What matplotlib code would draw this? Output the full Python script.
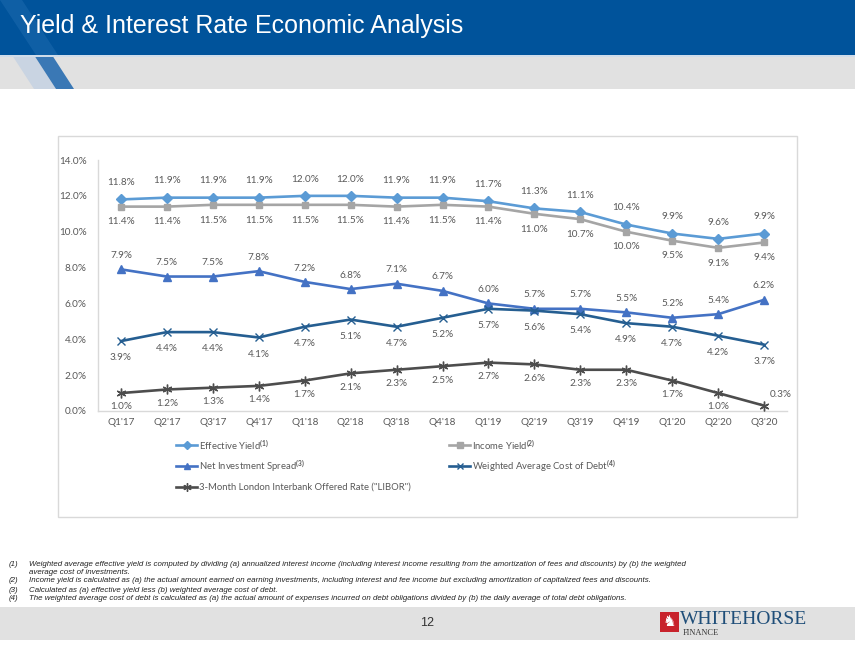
import matplotlib
matplotlib.use("Agg")
import matplotlib.pyplot as plt
import matplotlib.patches as mpatches
from matplotlib.lines import Line2D
from matplotlib import font_manager

W, H = 855, 654

quarters = ["Q1'17", "Q2'17", "Q3'17", "Q4'17", "Q1'18", "Q2'18", "Q3'18", "Q4'18",
            "Q1'19", "Q2'19", "Q3'19", "Q4'19", "Q1'20", "Q2'20", "Q3'20"]
effective_yield = [11.8, 11.9, 11.9, 11.9, 12.0, 12.0, 11.9, 11.9, 11.7, 11.3, 11.1, 10.4, 9.9, 9.6, 9.9]
income_yield = [11.4, 11.4, 11.5, 11.5, 11.5, 11.5, 11.4, 11.5, 11.4, 11.0, 10.7, 10.0, 9.5, 9.1, 9.4]
net_spread = [7.9, 7.5, 7.5, 7.8, 7.2, 6.8, 7.1, 6.7, 6.0, 5.7, 5.7, 5.5, 5.2, 5.4, 6.2]
cost_of_debt = [3.9, 4.4, 4.4, 4.1, 4.7, 5.1, 4.7, 5.2, 5.7, 5.6, 5.4, 4.9, 4.7, 4.2, 3.7]
libor = [1.0, 1.2, 1.3, 1.4, 1.7, 2.1, 2.3, 2.5, 2.7, 2.6, 2.3, 2.3, 1.7, 1.0, 0.3]
y_ticks = [0, 2, 4, 6, 8, 10, 12, 14]

footnotes = [
    ("(1)", "Weighted average effective yield is computed by dividing (a) annualized interest income (including interest income resulting from the amortization of fees and discounts) by (b) the weighted"),
    ("", "average cost of investments."),
    ("(2)", "Income yield is calculated as (a) the actual amount earned on earning investments, including interest and fee income but excluding amortization of capitalized fees and discounts."),
    ("(3)", "Calculated as (a) effective yield less (b) weighted average cost of debt."),
    ("(4)", "The weighted average cost of debt is calculated as (a) the actual amount of expenses incurred on debt obligations divided by (b) the daily average of total debt obligations."),
]

installed = {f.name for f in font_manager.fontManager.ttflist}
LABEL_FONT = "Lato" if "Lato" in installed else "DejaVu Sans"
SANS = ["Liberation Sans", "DejaVu Sans"]

plt.rcParams["font.family"] = [LABEL_FONT, "DejaVu Sans"]
plt.rcParams["mathtext.fontset"] = "custom"
plt.rcParams["mathtext.rm"] = LABEL_FONT
plt.rcParams["mathtext.bf"] = LABEL_FONT + ":bold"

TXT = "#595959"
C_EY = "#5B9BD5"
C_IY = "#A5A5A5"
C_NIS = "#4472C4"
C_DEBT = "#255E91"
C_LIBOR = "#4D4D4D"


def px(x, y):
    return x / W, 1 - y / H


def rect(x0, y0, x1, y1, **kw):
    (fx0, fy1), (fx1, fy0) = px(x0, y0), px(x1, y1)
    return mpatches.Rectangle((fx0, fy0), fx1 - fx0, fy1 - fy0, transform=fig.transFigure, **kw)


def poly(points, **kw):
    return mpatches.Polygon([px(x, y) for x, y in points], closed=True, transform=fig.transFigure, **kw)


fig = plt.figure(figsize=(W / 100, H / 100), dpi=100)
fig.patch.set_facecolor("white")

# header
fig.add_artist(rect(0, 0, W, 55, color="#00539B", lw=0))
fig.add_artist(rect(0, 55, W, 89, color="#E1E1E1", lw=0))
fig.add_artist(poly([(0, 0), (22, 0), (58, 55), (36, 55)], color="#1D6AAE", alpha=0.55, lw=0))
fig.add_artist(poly([(12, 55), (34, 55), (56, 89), (34, 89)], color="#C9D4E2", lw=0))
fig.add_artist(poly([(34, 55), (52, 55), (74, 89), (56, 89)], color="#3A78B5", lw=0))
fig.add_artist(rect(0, 55, W, 57, color="#CFDCEA", lw=0))
fig.text(*px(20, 26), "Yield & Interest Rate Economic Analysis", color="white",
         fontsize=18, family=SANS, va="center", ha="left")

# chart frame
fig.add_artist(rect(58, 136, 797, 517, facecolor="none", edgecolor="#D9D9D9", lw=1.0))

ax = fig.add_axes([98 / W, 1 - 411 / H, 689 / W, 251 / H])
x = list(range(len(quarters)))

series = [
    (effective_yield, C_EY, "D", 5, 12),
    (income_yield, C_IY, "s", 5, -11),
    (net_spread, C_NIS, "^", 6, 10),
    (cost_of_debt, C_DEBT, "x", 6, -12),
    (libor, C_LIBOR, (6, 2, 0), 7, -10),
]
for vals, col, mk, ms, dy in series:
    ax.plot(x, vals, color=col, lw=1.9, marker=mk, ms=ms, mec=col, mfc=col, mew=1.0, zorder=3)
    for i, v in enumerate(vals):
        dx, ddy = 0, dy
        if vals is libor and i == len(vals) - 1:
            dx, ddy = 12, 8
        ax.annotate(f"{v:.1f}%", (i, v), xytext=(dx, ddy), textcoords="offset points",
                    ha="center", va="center", fontsize=7.2, color=TXT)

ax.set_xlim(-0.5, len(quarters) - 0.5)
ax.set_ylim(0, 14)
ax.set_xticks(x)
ax.set_xticklabels(quarters)
ax.set_yticks(y_ticks)
ax.set_yticklabels([f"{t:.1f}%" for t in y_ticks])
ax.tick_params(length=0, labelsize=7.2, colors=TXT, pad=5)
ax.tick_params(axis="y", pad=8)
for s in ["top", "right"]:
    ax.spines[s].set_visible(False)
for s in ["left", "bottom"]:
    ax.spines[s].set_color("#D9D9D9")
    ax.spines[s].set_linewidth(1.0)
ax.set_facecolor("none")

# legend
legend_items = [
    (176, 445, C_EY, "D", 4, r"Effective Yield$^{\mathbf{(1)}}$"),
    (176, 466, C_NIS, "^", 5, r"Net Investment Spread$^{\mathbf{(3)}}$"),
    (176, 487, C_LIBOR, (6, 2, 0), 6, r'3-Month London Interbank Offered Rate ("LIBOR")'),
    (449, 445, C_IY, "s", 4, r"Income Yield$^{\mathbf{(2)}}$"),
    (449, 466, C_DEBT, "x", 5, r"Weighted Average Cost of Debt$^{\mathbf{(4)}}$"),
]
for lx, ly, col, mk, ms, lab in legend_items:
    (fx0, fy), (fx1, _) = px(lx, ly), px(lx + 21, ly)
    fig.add_artist(Line2D([fx0, fx1], [fy, fy], color=col, lw=1.9, transform=fig.transFigure))
    fig.add_artist(Line2D([(fx0 + fx1) / 2], [fy], color=col, marker=mk, ms=ms, mec=col,
                          mfc=col, transform=fig.transFigure))
    fig.text(*px(lx + 23, ly), lab, fontsize=6.8, color=TXT, va="center", ha="left")

# footnotes
fy_rows = [564, 572, 581, 590, 599]
for (num, text), yy in zip(footnotes, fy_rows):
    if num:
        fig.text(*px(9, yy), num, fontsize=5.65, style="italic", color="#222222",
                 family=SANS, va="center")
    fig.text(*px(29, yy), text, fontsize=5.65, style="italic", color="#222222",
             family=SANS, va="center")

# footer
fig.add_artist(rect(0, 607, W, 640, color="#E1E1E1", lw=0))
fig.text(*px(427, 623), "12", fontsize=9, family=SANS, color="#333333",
         ha="center", va="center")
fig.add_artist(rect(660, 612, 679, 632, color="#C8232C", lw=0))
fig.text(*px(669.5, 622), "\u265e", fontsize=11, color="white", family="DejaVu Sans",
         ha="center", va="center")
fig.text(*px(680, 619), "WHITEHORSE", fontsize=14, color="#1F4E79",
         family=["Liberation Serif", "DejaVu Serif"], ha="left", va="center")
fig.text(*px(683, 633), "FINANCE", fontsize=6, color="#333333",
         family=["Liberation Serif", "DejaVu Serif"], ha="left", va="center")

fig.savefig("out.png", dpi=100)
